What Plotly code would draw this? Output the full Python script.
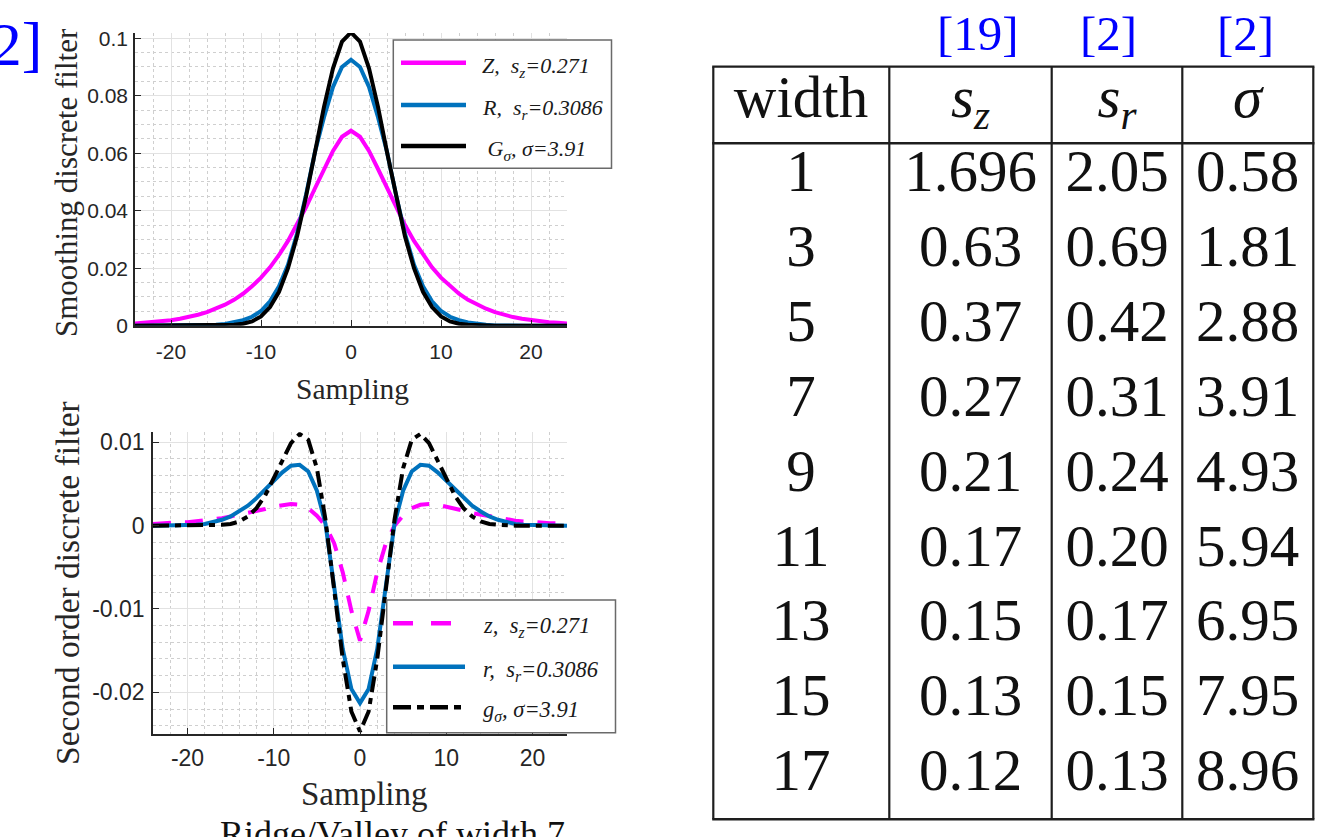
import plotly.graph_objects as go

W, H = 1335, 837

# ---------------- data ----------------
sampling = list(range(-24, 25))

smooth_Z = [0.0008, 0.0010, 0.0012, 0.0015, 0.0019, 0.0024, 0.0030, 0.0038, 0.0047, 0.0059,
            0.0073, 0.0090, 0.0111, 0.0137, 0.0167, 0.0203, 0.0246, 0.0295, 0.0350, 0.0412,
            0.0478, 0.0545, 0.0608, 0.0657, 0.0678, 0.0657, 0.0608, 0.0545, 0.0478, 0.0412,
            0.0350, 0.0295, 0.0246, 0.0203, 0.0167, 0.0137, 0.0111, 0.0090, 0.0073, 0.0059,
            0.0047, 0.0038, 0.0030, 0.0024, 0.0019, 0.0015, 0.0012, 0.0010, 0.0008]

smooth_R = [0, 0, 0, 0, 0, 0, 0, 0, 0.0001, 0.0003,
            0.0006, 0.0011, 0.0019, 0.0031, 0.0051, 0.0085, 0.0137, 0.0212, 0.0320, 0.0455,
            0.0605, 0.0725, 0.0830, 0.0900, 0.0925, 0.0900, 0.0830, 0.0725, 0.0605, 0.0455,
            0.0320, 0.0212, 0.0137, 0.0085, 0.0051, 0.0031, 0.0019, 0.0011, 0.0006, 0.0003,
            0.0001, 0, 0, 0, 0, 0, 0, 0, 0]

smooth_G = [0, 0, 0, 0, 0, 0, 0, 0, 0, 0,
            0.0001, 0.0003, 0.0007, 0.0015, 0.0032, 0.0065, 0.0118, 0.0200, 0.0310, 0.0449,
            0.0604, 0.0761, 0.0895, 0.0988, 0.1020, 0.0988, 0.0895, 0.0761, 0.0604, 0.0449,
            0.0310, 0.0200, 0.0118, 0.0065, 0.0032, 0.0015, 0.0007, 0.0003, 0.0001, 0,
            0, 0, 0, 0, 0, 0, 0, 0, 0]

second_z = [0.0002, 0.0003, 0.0003, 0.0004, 0.0004, 0.0005, 0.0006, 0.0008, 0.0009, 0.0011,
            0.0013, 0.0015, 0.0018, 0.0020, 0.0023, 0.0025, 0.0026, 0.0025, 0.0021, 0.0012,
            0.0000, -0.0021, -0.0056, -0.0102, -0.0138, -0.0102, -0.0056, -0.0021, 0.0000, 0.0012,
            0.0021, 0.0025, 0.0026, 0.0025, 0.0023, 0.0020, 0.0018, 0.0015, 0.0013, 0.0011,
            0.0009, 0.0008, 0.0006, 0.0005, 0.0004, 0.0004, 0.0003, 0.0003, 0.0002]

second_r = [0, 0, 0, 0, 0.0001, 0.0001, 0.0002, 0.0004, 0.0007, 0.0011,
            0.0017, 0.0024, 0.0033, 0.0043, 0.0054, 0.0064, 0.0072, 0.0073, 0.0065, 0.0042,
            0.0002, -0.0072, -0.0148, -0.0196, -0.0213, -0.0196, -0.0148, -0.0072, 0.0002, 0.0042,
            0.0065, 0.0073, 0.0072, 0.0064, 0.0054, 0.0043, 0.0033, 0.0024, 0.0017, 0.0011,
            0.0007, 0.0004, 0.0002, 0.0001, 0.0001, 0, 0, 0, 0]

second_g = [0, 0, 0, 0, 0, 0, 0, 0, 0.0001, 0.0002,
            0.0005, 0.0011, 0.0021, 0.0036, 0.0056, 0.0078, 0.0099, 0.0110, 0.0103, 0.0069,
            0.0007, -0.0076, -0.0160, -0.0223, -0.0247, -0.0223, -0.0160, -0.0076, 0.0007, 0.0069,
            0.0103, 0.0110, 0.0099, 0.0078, 0.0056, 0.0036, 0.0021, 0.0011, 0.0005, 0.0002,
            0.0001, 0, 0, 0, 0, 0, 0, 0, 0]

x_tickvals = [-20, -10, 0, 10, 20]
x_ticktext = ["-20", "-10", "0", "10", "20"]
top_y_tickvals = [0, 0.02, 0.04, 0.06, 0.08, 0.1]
top_y_ticktext = ["0", "0.02", "0.04", "0.06", "0.08", "0.1"]
bot_y_tickvals = [-0.02, -0.01, 0, 0.01]
bot_y_ticktext = ["-0.02", "-0.01", "0", "0.01"]

top_legend_labels = ["Z,&nbsp;&nbsp;s<sub>z</sub>=0.271", "R,&nbsp;&nbsp;s<sub>r</sub>=0.3086",
                     "&nbsp;G<sub>σ</sub>, σ=3.91"]
bot_legend_labels = ["z,&nbsp;&nbsp;s<sub>z</sub>=0.271", "r,&nbsp;&nbsp;s<sub>r</sub>=0.3086",
                     "g<sub>σ</sub>, σ=3.91"]

table_refs = ["[19]", "[2]", "[2]"]
table_header = ["width", "<i>s</i><sub><i>z</i></sub>", "<i>s</i><sub><i>r</i></sub>", "<i>σ</i>"]
table_width = ["1", "3", "5", "7", "9", "11", "13", "15", "17"]
table_sz = ["1.696", "0.63", "0.37", "0.27", "0.21", "0.17", "0.15", "0.13", "0.12"]
table_sr = ["2.05", "0.69", "0.42", "0.31", "0.24", "0.20", "0.17", "0.15", "0.13"]
table_sigma = ["0.58", "1.81", "2.88", "3.91", "4.93", "5.94", "6.95", "7.95", "8.96"]

# ---------------- styles / layout helpers ----------------
MAGENTA = "#ff00ff"
BLUE = "#0072bd"
BLACK = "#000000"
AXC = "#262626"
SERIF = "Liberation Serif"
SANS = "Liberation Sans"


def fx(px):
    return px / W


def fy(py):
    return 1 - py / H


fig = go.Figure()

# top plot
fig.add_trace(go.Scatter(x=sampling, y=smooth_Z, mode="lines", line=dict(color=MAGENTA, width=4),
                         xaxis="x", yaxis="y", showlegend=False))
fig.add_trace(go.Scatter(x=sampling, y=smooth_R, mode="lines", line=dict(color=BLUE, width=4),
                         xaxis="x", yaxis="y", showlegend=False))
fig.add_trace(go.Scatter(x=sampling, y=smooth_G, mode="lines", line=dict(color=BLACK, width=4),
                         xaxis="x", yaxis="y", showlegend=False))

# bottom plot
DASH_Z = "18px,14px"
DASH_G = "16px,6px,6px,6px"
fig.add_trace(go.Scatter(x=sampling, y=second_z, mode="lines",
                         line=dict(color=MAGENTA, width=4, dash=DASH_Z),
                         xaxis="x2", yaxis="y2", showlegend=False))
fig.add_trace(go.Scatter(x=sampling, y=second_r, mode="lines", line=dict(color=BLUE, width=4),
                         xaxis="x2", yaxis="y2", showlegend=False))
fig.add_trace(go.Scatter(x=sampling, y=second_g, mode="lines",
                         line=dict(color=BLACK, width=4, dash=DASH_G),
                         xaxis="x2", yaxis="y2", showlegend=False))

# table text
col_centers = [88, 257.5, 404, 534.5]
columns = [table_width, table_sz, table_sr, table_sigma]
for ci, col in enumerate(columns):
    fig.add_trace(go.Scatter(
        x=[col_centers[ci]] * (len(col) + 1),
        y=list(range(len(col) + 1)),
        text=[table_header[ci]] + col,
        mode="text", textposition="middle center",
        textfont=dict(family=SERIF, size=59, color="#111111"),
        xaxis="x3", yaxis="y3", showlegend=False, hoverinfo="skip"))


def plot_axis(domain, rng, tickvals, ticktext, anchor, fontsize, minor_dtick, standoff):
    return dict(domain=domain, range=rng, tickmode="array", tickvals=tickvals, ticktext=ticktext,
                ticks="inside", ticklen=6, tickwidth=1.2, tickcolor=AXC,
                showline=True, linecolor=AXC, linewidth=1.5, mirror=False,
                showgrid=True, gridcolor="#e2e2e2", gridwidth=1.2, zeroline=False,
                minor=dict(dtick=minor_dtick, showgrid=True, gridcolor="#cfcfcf", griddash="dot",
                           gridwidth=1, ticks=""),
                tickfont=dict(family=SANS, size=fontsize, color=AXC),
                anchor=anchor, ticklabelstandoff=standoff, automargin=False, fixedrange=True)


layout = dict(
    width=W, height=H, autosize=False,
    margin=dict(l=0, r=0, t=0, b=0, pad=0, autoexpand=False),
    paper_bgcolor="white", plot_bgcolor="white", showlegend=False,
    xaxis=plot_axis([fx(135), fx(567)], [-24, 24], x_tickvals, x_ticktext, "y", 21, 2, 6),
    yaxis=plot_axis([fy(325.7), fy(33)], [0, 0.1018], top_y_tickvals, top_y_ticktext, "x", 21, 0.005, 1),
    xaxis2=plot_axis([fx(153), fx(567)], [-24, 24], x_tickvals, x_ticktext, "y2", 23, 2, 3),
    yaxis2=plot_axis([fy(734), fy(432.3)], [-0.025, 0.0112], bot_y_tickvals, bot_y_ticktext, "x2", 23, 0.002, 2),
    xaxis3=dict(domain=[fx(713), fx(1313)], range=[0, 600], visible=False, anchor="y3",
                automargin=False, fixedrange=True),
    yaxis3=dict(domain=[fy(812.8), fy(64.4)], range=[9.5, -0.5], visible=False, anchor="x3",
                automargin=False, fixedrange=True),
)
fig.update_layout(**layout)

shapes = []
annotations = []

# ---- legends ----
def add_legend(box, sample_x, ys, colors, dashes, labels, text_x, fsize):
    x0, y0, x1, y1 = box
    shapes.append(dict(type="rect", xref="paper", yref="paper", x0=fx(x0), x1=fx(x1), y0=fy(y1), y1=fy(y0),
                       line=dict(color="#6a6a6a", width=1.5), fillcolor="white", layer="above"))
    for yy, c, d, lab in zip(ys, colors, dashes, labels):
        shapes.append(dict(type="line", xref="paper", yref="paper", x0=fx(sample_x[0]), x1=fx(sample_x[1]),
                           y0=fy(yy), y1=fy(yy), line=dict(color=c, width=4.5, dash=d), layer="above"))
        annotations.append(dict(xref="paper", yref="paper", x=fx(text_x), y=fy(yy + 4), xanchor="left",
                                yanchor="middle", showarrow=False, text="<i>" + lab + "</i>",
                                font=dict(family=SERIF, size=fsize, color="#1a1a1a")))


add_legend((393.3, 40, 611.5, 168.3), (401, 466), [62.7, 105, 146], [MAGENTA, BLUE, BLACK],
           ["solid", "solid", "solid"], top_legend_labels, 480, 22)
add_legend((386.7, 600, 615.5, 732.7), (393, 465), [623.3, 666.7, 707.3], [MAGENTA, BLUE, BLACK],
           ["20px,18px", "solid", "18px,6px,7px,6px"], bot_legend_labels, 481, 22.5)

# ---- axis titles ----
annotations.append(dict(xref="paper", yref="paper", x=fx(67), y=fy(183), textangle=-90, showarrow=False,
                        text="Smoothing discrete filter", xanchor="center", yanchor="middle",
                        font=dict(family=SERIF, size=31, color=AXC)))
annotations.append(dict(xref="paper", yref="paper", x=fx(67), y=fy(583), textangle=-90, showarrow=False,
                        text="Second order discrete filter", xanchor="center", yanchor="middle",
                        font=dict(family=SERIF, size=33.5, color=AXC)))
annotations.append(dict(xref="paper", yref="paper", x=fx(352), y=fy(389), showarrow=False,
                        text="Sampling", xanchor="center", yanchor="middle",
                        font=dict(family=SERIF, size=29.5, color=AXC)))
annotations.append(dict(xref="paper", yref="paper", x=fx(364), y=fy(794), showarrow=False,
                        text="Sampling", xanchor="center", yanchor="middle",
                        font=dict(family=SERIF, size=33, color=AXC)))
annotations.append(dict(xref="paper", yref="paper", x=fx(393), y=fy(834), showarrow=False,
                        text="Ridge/Valley of width 7", xanchor="center", yanchor="middle",
                        font=dict(family=SERIF, size=36, color="#111111")))

# ---- blue references ----
annotations.append(dict(xref="paper", yref="paper", x=fx(44), y=fy(44), showarrow=False,
                        text="[2]", xanchor="right", yanchor="middle",
                        font=dict(family=SERIF, size=62, color="#0000ff")))
for cx, ref in zip([978, 1108.5, 1245], table_refs):
    annotations.append(dict(xref="paper", yref="paper", x=fx(cx), y=fy(33), showarrow=False,
                            text=ref, xanchor="center", yanchor="middle",
                            font=dict(family=SERIF, size=49, color="#0000ff")))

# ---- table rules ----
TL = "#1e1e1e"
for yy, wdt in [(66.7, 2.2), (143.3, 2.6), (819.3, 2.4)]:
    shapes.append(dict(type="line", xref="paper", yref="paper", x0=fx(712.2), x1=fx(1314.4),
                       y0=fy(yy), y1=fy(yy), line=dict(color=TL, width=wdt), layer="above"))
for xx in [713.3, 889.3, 1051.7, 1182.3, 1313.3]:
    shapes.append(dict(type="line", xref="paper", yref="paper", x0=fx(xx), x1=fx(xx),
                       y0=fy(66.7), y1=fy(819.3), line=dict(color=TL, width=2.2), layer="above"))

fig.update_layout(shapes=shapes, annotations=annotations)
fig.write_html("out.html", config={"displayModeBar": False, "responsive": False})
